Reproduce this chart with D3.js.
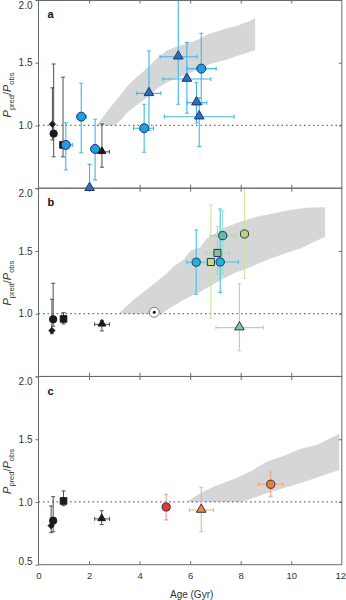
<!DOCTYPE html>
<html><head><meta charset="utf-8">
<script src="https://cdn.jsdelivr.net/npm/d3@7"></script>
<style>body{margin:0;background:#fff}svg{display:block;font-family:"Liberation Sans",Arial,Helvetica,sans-serif}</style>
</head><body><svg id="chart" width="346" height="600"></svg>
<script>
// ---------------- data ----------------
const panelLabels = ["a", "b", "c"];
const xTickValues = [0, 2, 4, 6, 8, 10, 12];
const yTickValues = [0.5, 1.0, 1.5, 2.0];
const xTitle = "Age (Gyr)";

// Panel a
const aSample = ["Praesepe","Hyades","NGC 6811","NGC 6819","seismic","seismic","seismic","seismic-alt","seismic","seismic-alt","seismic-alt","seismic-alt","seismic","seismic-alt","seismic-alt"];
const aBin    = ["K","K","K","K","A1","A1","A1","A2","A1","A2","A2","A2","A1","A2","A2"];
const aAge    = [0.55, 0.60, 0.97, 2.51, 1.08, 1.69, 2.24, 2.02, 4.18, 4.37, 5.53, 5.87, 6.44, 6.25, 6.36];
const aVal    = [1.01, 0.935, 0.845, 0.79, 0.845, 1.07, 0.813, 0.50, 0.978, 1.256, 1.548, 1.37, 1.453, 1.182, 1.07];
const aYLo    = [0.885, 0.75, 0.75, 0.667, 0.645, 0.783, 0.566, 0.50, 0.786, 0.96, 1.169, 1.097, 1.17, 1.02, 0.831];
const aYHi    = [1.30, 1.49, 1.385, 1.012, 1.022, 1.336, 1.049, 0.69, 1.169, 1.594, 2.10, 1.66, 1.735, 1.341, 1.22];
const aXLo    = [null, null, null, 2.33, 0.86, 1.52, 2.08, null, 3.76, 3.89, 4.81, 4.92, 5.87, 5.89, 4.98];
const aXHi    = [null, null, null, 2.81, 1.34, 1.89, 2.42, null, 4.55, 4.84, 6.27, 6.82, 7.03, 6.66, 7.74];
const aBandUpper = [[2.3,1.0],[2.6,1.08],[2.9,1.16],[3.2,1.23],[3.5,1.31],[3.8,1.37],[4.15,1.43],[4.5,1.50],[4.81,1.555],[5.1,1.60],[5.47,1.63],[5.8,1.65],[6.13,1.67],[6.45,1.70],[6.79,1.735],[7.1,1.75],[7.45,1.775],[7.8,1.79],[8.11,1.815],[8.35,1.83],[8.57,1.858]];
const aBandLower = [[2.3,1.0],[3.0,1.0],[3.2,1.03],[3.5,1.10],[3.8,1.15],[4.15,1.20],[4.5,1.26],[4.81,1.31],[5.1,1.345],[5.47,1.376],[5.8,1.40],[6.13,1.43],[6.45,1.46],[6.79,1.49],[7.1,1.505],[7.45,1.525],[7.8,1.55],[8.11,1.57],[8.57,1.60]];

// Panel b
const bSample = ["Praesepe","Hyades","NGC 6811","NGC 6819","Sun","seismic","16 Cyg A","16 Cyg B","seismic","seismic","seismic","seismic-alt"];
const bBin    = ["K","K","K","K","S","B1","B2","B3","B1","B4","B5","B6"];
const bAge    = [0.53, 0.58, 0.99, 2.51, 4.58, 6.24, 6.82, 7.08, 7.19, 7.29, 8.15, 7.95];
const bVal    = [0.865, 0.955, 0.958, 0.915, 1.011, 1.41, 1.412, 1.484, 1.412, 1.622, 1.635, 0.889];
const bYLo    = [0.84, 0.90, 0.918, 0.862, null, 1.155, 0.963, 1.314, 1.17, 1.32, 1.282, 0.705];
const bYHi    = [1.115, 1.242, 1.008, 0.944, null, 1.667, 1.866, 1.693, 1.834, 1.818, 2.10, 1.239];
const bXLo    = [null, null, null, 2.22, null, 5.87, 6.62, 6.63, 6.86, 6.79, 7.58, 7.02];
const bXHi    = [null, null, null, 2.81, null, 6.63, 7.00, 7.56, 7.91, 7.82, 8.74, 8.90];
const bBandUpper = [[3.17,1.0],[3.76,1.11],[4.42,1.215],[5.08,1.322],[5.34,1.375],[5.74,1.43],[6.0,1.50],[6.40,1.53],[6.66,1.60],[7.32,1.68],[7.98,1.733],[8.64,1.773],[9.3,1.80],[9.96,1.826],[10.62,1.845],[11.34,1.848]];
const bBandLower = [[3.17,1.0],[4.9,1.0],[5.08,1.03],[5.74,1.11],[6.40,1.175],[7.06,1.25],[7.71,1.32],[8.37,1.37],[9.03,1.428],[9.69,1.475],[10.35,1.52],[11.34,1.614]];

// Panel c
const cSample = ["Praesepe","Hyades","NGC 6811","NGC 6819","seismic","seismic-alt","seismic"];
const cBin    = ["K","K","K","K","C1","C2","C3"];
const cAge    = [0.50, 0.58, 0.99, 2.50, 5.05, 6.44, 9.19];
const cVal    = [0.811, 0.851, 1.008, 0.865, 0.96, 0.936, 1.141];
const cYLo    = [0.755, 0.763, 0.97, 0.82, 0.857, 0.763, 1.042];
const cYHi    = [0.968, 1.042, 1.088, 0.93, 1.061, 1.117, 1.239];
const cXLo    = [null, null, null, 2.22, null, 5.97, 8.70];
const cXHi    = [null, null, null, 2.81, null, 6.92, 9.67];
const cBandUpper = [[5.87,1.0],[6.40,1.069],[6.92,1.122],[7.71,1.181],[8.37,1.241],[9.03,1.321],[9.69,1.367],[10.35,1.422],[11.0,1.454],[11.9,1.542]];
const cBandLower = [[5.87,1.0],[8.05,1.0],[9.03,1.069],[10.35,1.149],[11.9,1.255]];

// ---------------- styles ----------------
const fillOf = {K:"#1b1b1b", S:"#ffffff", A1:"#1f9ee3", A2:"#2b6fb8", B1:"#1ab6d6", B2:"#c6dd7c", B3:"#84c48e", B4:"#5dbda0", B5:"#b8d770", B6:"#88c99a", C1:"#e4392c", C2:"#f08b32", C3:"#f27d25"};
const barOf  = {K:"#505050", S:"#505050", A1:"#3fb8e6", A2:"#3fb8e6", B1:"#3fc7e0", B2:"#cfe39a", B3:"#a5dab2", B4:"#a0d9c2", B5:"#cde49c", B6:"#a9dbb8", C1:"#f29a8e", C2:"#f6b27c", C3:"#f6a86b"};
const navy = "#27306b";

const svg = d3.select("#chart");
const x = d3.scaleLinear().domain([0, 12]).range([38.5, 341.8]);
const H = 188.2;
const tops = [0, 188.2, 376.5];

const panels = [
  {sample:aSample, bin:aBin, age:aAge, val:aVal, yLo:aYLo, yHi:aYHi, xLo:aXLo, xHi:aXHi, up:aBandUpper, lo:aBandLower},
  {sample:bSample, bin:bBin, age:bAge, val:bVal, yLo:bYLo, yHi:bYHi, xLo:bXLo, xHi:bXHi, up:bBandUpper, lo:bBandLower},
  {sample:cSample, bin:cBin, age:cAge, val:cVal, yLo:cYLo, yHi:cYHi, xLo:cXLo, xHi:cXHi, up:cBandUpper, lo:cBandLower}
];

const defs = svg.append("defs");
const layerBg = svg.append("g");
const layerMarks = svg.append("g");

function styleAxis(g){
  g.select(".domain").remove();
  g.selectAll(".tick line").attr("stroke","#6a6a6a");
  g.selectAll(".tick text").attr("fill","#333").attr("font-size",10).attr("font-family","Liberation Sans, Arial, sans-serif");
}

panels.forEach((p, i) => {
  const top = tops[i];
  const y = d3.scaleLinear().domain([0.5, 2.0]).range([top + H, top]);
  p.y = y;
  defs.append("clipPath").attr("id","clip"+i).append("rect")
    .attr("x", x(0)).attr("y", top).attr("width", x(12) - x(0)).attr("height", H);
  const inner = layerBg.append("g").attr("clip-path", `url(#clip${i})`);

  // grey band
  const pts = p.up.concat(p.lo.slice().reverse());
  inner.append("path")
    .attr("d", d3.line().x(d => x(d[0])).y(d => y(d[1]))(pts) + "Z")
    .attr("fill", "#d5d6d8");

  // dotted reference line
  inner.append("line")
    .attr("x1", x(0)).attr("x2", x(12)).attr("y1", y(1)).attr("y2", y(1))
    .attr("stroke", "#6e6e6e").attr("stroke-width", 1.2).attr("stroke-dasharray", "1.6,2.9");

  // error bars
  p.age.forEach((a, j) => {
    const col = barOf[p.bin[j]];
    const eb = inner.append("g").attr("stroke", col).attr("stroke-width", p.bin[j] === "K" ? 1 : 1.1).attr("fill","none");
    if (p.yLo[j] != null) {
      const xx = x(a), y1 = y(p.yLo[j]), y2 = y(p.yHi[j]);
      eb.append("line").attr("x1", xx).attr("x2", xx).attr("y1", y1).attr("y2", y2);
      if (p.yLo[j] < p.val[j]) eb.append("line").attr("x1", xx-2).attr("x2", xx+2).attr("y1", y1).attr("y2", y1);
      eb.append("line").attr("x1", xx-2).attr("x2", xx+2).attr("y1", y2).attr("y2", y2);
    }
    if (p.xLo[j] != null) {
      const yy = y(p.val[j]), x1 = x(p.xLo[j]), x2 = x(p.xHi[j]);
      eb.append("line").attr("x1", x1).attr("x2", x2).attr("y1", yy).attr("y2", yy);
      eb.append("line").attr("x1", x1).attr("x2", x1).attr("y1", yy-2).attr("y2", yy+2);
      eb.append("line").attr("x1", x2).attr("x2", x2).attr("y1", yy-2).attr("y2", yy+2);
    }
  });

  // frame
  layerBg.append("rect")
    .attr("x", x(0)).attr("y", top + (i === 0 ? 0.5 : 0)).attr("width", x(12) - x(0)).attr("height", H - (i === 0 ? 0.5 : 0))
    .attr("fill", "none").attr("stroke", "#6a6a6a").attr("stroke-width", 1);

  // axes
  const left = layerBg.append("g").attr("transform", `translate(${x(0)},0)`)
    .call(d3.axisLeft(y).tickValues(yTickValues).tickSizeInner(3).tickSizeOuter(0).tickPadding(3).tickFormat(d3.format(".1f")));
  styleAxis(left);
  left.selectAll(".tick text")
    .attr("transform", d => d === 2.0 ? "translate(0,5)" : (d === 0.5 ? "translate(0,-3)" : null))
    .style("display", d => (d === 0.5 && i < 2) ? "none" : null);

  const right = layerBg.append("g").attr("transform", `translate(${x(12)},0)`)
    .call(d3.axisRight(y).tickValues([1.0, 1.5]).tickSizeInner(-3).tickSizeOuter(0).tickFormat(""));
  styleAxis(right);

  const topAx = layerBg.append("g").attr("transform", `translate(0,${top})`)
    .call(d3.axisTop(x).tickValues([2,4,6,8,10]).tickSizeInner(-3.5).tickSizeOuter(0).tickFormat(""));
  styleAxis(topAx);

  const bot = layerBg.append("g").attr("transform", `translate(0,${top + H})`)
    .call(d3.axisBottom(x).tickValues(i === 2 ? xTickValues : [2,4,6,8,10]).tickSizeInner(-3.5).tickSizeOuter(0).tickPadding(7.5)
      .tickFormat(i === 2 ? d3.format("d") : ""));
  styleAxis(bot);
  bot.selectAll(".tick line").filter(d => d === 0 || d === 12).remove();
  bot.selectAll(".tick text").attr("font-size", 9.5)
    .attr("transform", d => d === 12 ? "translate(-1.5,0)" : null);

  // panel letter
  layerBg.append("text").attr("x", 47.5).attr("y", top + 18)
    .attr("font-size", 11).attr("font-weight", "bold").attr("fill", "#111").text(panelLabels[i]);

  // y title
  const yt = layerBg.append("text")
    .attr("transform", `translate(11,${top + 95}) rotate(-90)`)
    .attr("text-anchor", "middle").attr("font-size", 11).attr("fill", "#333");
  yt.append("tspan").attr("font-style", "italic").text("P");
  yt.append("tspan").attr("font-size", 7.5).attr("dy", 2.5).text("pred");
  yt.append("tspan").attr("dy", -2.5).text("/");
  yt.append("tspan").attr("font-style", "italic").text("P");
  yt.append("tspan").attr("font-size", 7.5).attr("dy", 2.5).text("obs");
});

// markers (drawn last, not clipped)
function shapeOf(sample){
  if (sample === "Praesepe") return "diamond";
  if (sample === "NGC 6811" || sample.startsWith("16 Cyg")) return "square";
  if (sample === "NGC 6819" || sample === "seismic-alt") return "triangle";
  if (sample === "Sun") return "sun";
  return "circle";
}
panels.forEach((p, i) => {
  const y = p.y;
  p.age.forEach((a, j) => {
    const cx = x(a), cy = y(p.val[j]);
    const bin = p.bin[j];
    const black = bin === "K";
    const shape = shapeOf(p.sample[j]);
    const fill = fillOf[bin];
    const stroke = black ? "#1b1b1b" : navy;
    const g = layerMarks.append("g").attr("transform", `translate(${cx},${cy})`);
    if (shape === "sun") {
      g.append("circle").attr("r", 5).attr("fill", "#fff").attr("stroke", "#6a6a6a").attr("stroke-width", 0.9);
      g.append("circle").attr("r", 1.5).attr("fill", "#111");
    } else if (shape === "circle") {
      g.append("circle").attr("r", black ? 3.7 : (i === 0 ? 4.5 : 4.1))
        .attr("fill", fill).attr("stroke", stroke).attr("stroke-width", 1);
    } else if (shape === "square") {
      g.append("path").attr("d", d3.symbol(d3.symbolSquare, black ? 44 : 50)())
        .attr("fill", fill).attr("stroke", stroke).attr("stroke-width", 1);
    } else if (shape === "diamond") {
      g.append("path").attr("d", d3.symbol(d3.symbolSquare, 20)()).attr("transform", "rotate(45)")
        .attr("fill", fill).attr("stroke", stroke).attr("stroke-width", 0.8);
    } else if (shape === "triangle") {
      g.append("path").attr("d", d3.symbol(d3.symbolTriangle, black ? 26 : 40)()).attr("transform", "translate(0,-0.5)")
        .attr("fill", fill).attr("stroke", stroke).attr("stroke-width", 1);
    }
  });
});

// x title
svg.append("text").attr("x", x(6) + 1.5).attr("y", 597.5).attr("text-anchor", "middle")
  .attr("font-size", 10).attr("fill", "#333").text(xTitle);
</script>
</body></html>
